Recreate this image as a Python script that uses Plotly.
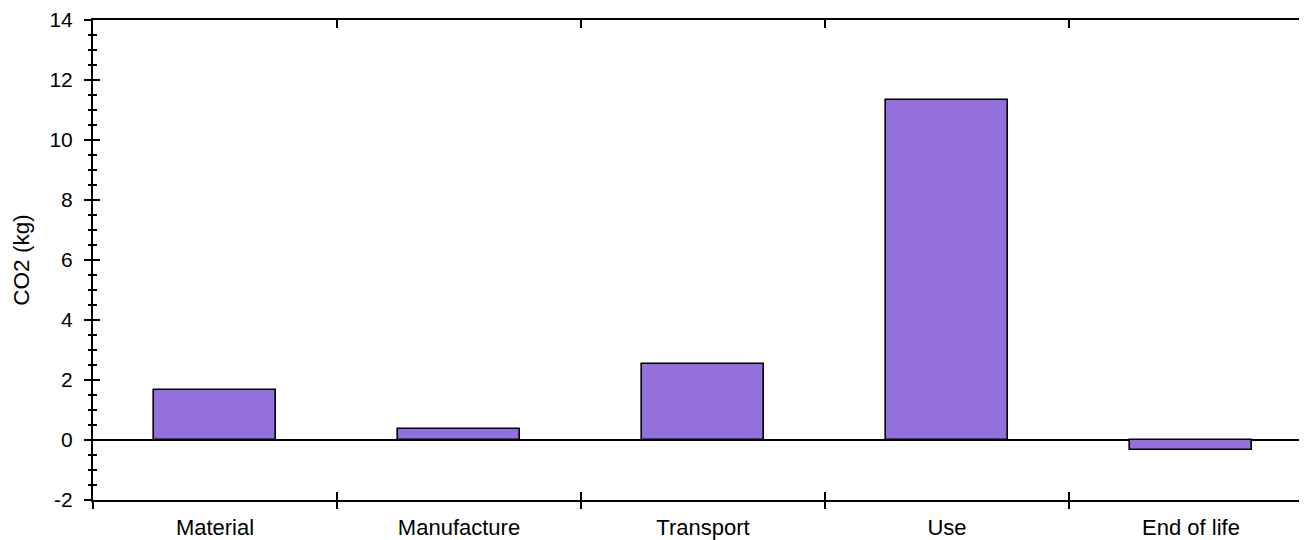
import plotly.graph_objects as go

categories = ["Material", "Manufacture", "Transport", "Use", "End of life"]
co2_values = [1.68, 0.37, 2.55, 11.35, -0.32]
y_tick_values = [-2, 0, 2, 4, 6, 8, 10, 12, 14]
y_tick_labels = ["-2", "0", "2", "4", "6", "8", "10", "12", "14"]

FONT = "Liberation Sans, Arial, sans-serif"
n = len(categories)
positions = list(range(n))
boundaries = [i - 0.5 for i in range(n + 1)]
x_range = [-0.5, n - 0.5]
y_range = [-2, 14]

fig = go.Figure()
fig.add_trace(go.Bar(
    x=positions, y=co2_values, width=0.5,
    marker=dict(color="#9370DB", line=dict(color="black", width=1.6)),
    xaxis="x", yaxis="y", showlegend=False,
))

common_y = dict(range=y_range, tickvals=y_tick_values, showgrid=False, fixedrange=True)
common_x = dict(range=x_range, showgrid=False, zeroline=False, fixedrange=True)

fig.update_layout(
    width=1307, height=540,
    margin=dict(l=85, r=2, t=12, b=48, autoexpand=False),
    paper_bgcolor="white", plot_bgcolor="white",
    font=dict(family=FONT, color="black", size=20),
    bargap=0,
    xaxis=dict(
        **common_x,
        tickvals=positions, ticktext=categories, ticks="",
        showline=True, linecolor="black", linewidth=2,
        tickfont=dict(size=22, family=FONT, color="black"),
        ticklabelstandoff=7,
    ),
    xaxis2=dict(
        **common_x, overlaying="x", anchor="y", side="bottom",
        tickvals=boundaries, ticks="outside", ticklen=8, tickwidth=2,
        tickcolor="black", showticklabels=False, showline=False,
    ),
    xaxis3=dict(
        **common_x, overlaying="x", anchor="y", side="bottom",
        tickvals=boundaries, ticks="inside", ticklen=8, tickwidth=2,
        tickcolor="black", showticklabels=False, showline=False,
    ),
    xaxis4=dict(
        **common_x, overlaying="x", anchor="y", side="top",
        tickvals=boundaries, ticks="inside", ticklen=8, tickwidth=2,
        tickcolor="black", showticklabels=False,
        showline=True, linecolor="black", linewidth=2,
    ),
    yaxis=dict(
        **common_y, ticktext=y_tick_labels,
        ticks="outside", ticklen=7, tickwidth=2, tickcolor="black",
        minor=dict(dtick=0.5, ticks="outside", ticklen=3.5, tickwidth=2, tickcolor="black"),
        showline=True, linecolor="black", linewidth=2,
        zeroline=True, zerolinecolor="black", zerolinewidth=2,
        tickfont=dict(size=21, family=FONT, color="black"),
        ticklabelstandoff=7,
        title=dict(text="CO2 (kg)", font=dict(size=22.5, family=FONT, color="black"), standoff=14),
    ),
    yaxis2=dict(
        **common_y, overlaying="y", anchor="x", side="left",
        ticks="inside", ticklen=7, tickwidth=2, tickcolor="black",
        minor=dict(dtick=0.5, ticks="inside", ticklen=3.5, tickwidth=2, tickcolor="black"),
        showticklabels=False, showline=False, zeroline=False,
    ),
    yaxis3=dict(
        **common_y, overlaying="y", anchor="x", side="right",
        ticks="inside", ticklen=8, tickwidth=2, tickcolor="black",
        showticklabels=False, showline=True, linecolor="black", linewidth=2, zeroline=False,
    ),
)

# invisible traces to activate overlay axes
for xa, ya in [("x2", "y"), ("x3", "y"), ("x4", "y"), ("x", "y2"), ("x", "y3")]:
    fig.add_trace(go.Scatter(x=[positions[0]], y=[co2_values[0]], xaxis=xa, yaxis=ya,
                             mode="markers", marker=dict(opacity=0), hoverinfo="skip",
                             showlegend=False))

fig.write_html("out.html")
